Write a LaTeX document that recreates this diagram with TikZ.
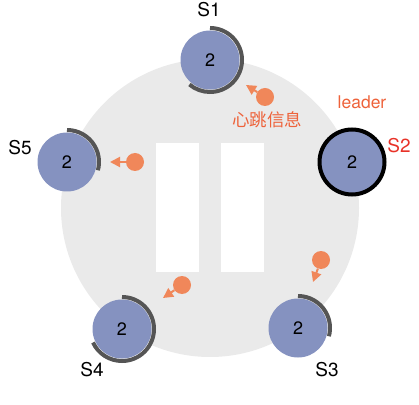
\documentclass[tikz,border=0pt]{standalone}
\usepackage{fontspec}
\setmainfont{TeX Gyre Heros}
\newfontfamily\cjk{Noto Sans CJK SC}
\usetikzlibrary{arrows.meta}
\definecolor{srvblue}{RGB}{133,146,192}
\definecolor{ringgray}{RGB}{85,85,85}
\definecolor{bggray}{RGB}{234,234,234}
\definecolor{msgorange}{RGB}{240,135,90}
\definecolor{leadred}{RGB}{238,98,58}
\definecolor{srvred}{RGB}{232,50,40}
\tikzset{
  srv/.style={circle, fill=srvblue, minimum size=59pt, inner sep=0pt,
    font=\fontsize{18}{18}\selectfont},
  ring/.style={ringgray, line width=4pt},
  dot/.style={circle, fill=msgorange, minimum size=18pt, inner sep=0pt},
  msg/.style={msgorange, line width=2pt, -{Triangle[length=10pt,width=10pt]}},
  srvlabel/.style={font=\fontsize{19}{19}\selectfont}
}
\begin{document}
\begin{tikzpicture}[x=1pt,y=1pt]
  \useasboundingbox (0,0) rectangle (419,404);
  % background
  \fill[bggray] (210,196) circle (149);
  \fill[white] (156,132) rectangle (199,261);
  \fill[white] (221,132) rectangle (264,261);
  % followers
  \foreach \n/\x/\y/\e in {1/210/344/-130, 3/298/76/-15, 4/122/75/-155, 5/67/242/-15}{
      \node[srv] (s\n) at (\x,\y) {2};
      \draw[ring] (s\n.center) ++(90:32) arc[start angle=90, end angle=\e, radius=32];
  }
  % leader
  \node[srv, draw=black, line width=4pt, minimum size=65pt] (s2) at (352,242) {2};
  % labels
  \node[srvlabel] (l1) at (209,394) {S1};
  \node[srvlabel, srvred] (l2) at (399,258) {S2};
  \node[srvlabel] (l3) at (327,34) {S3};
  \node[srvlabel] (l4) at (92,34) {S4};
  \node[srvlabel] (l5) at (20,256) {S5};
  \node[leadred, font=\fontsize{17.5}{17.5}\selectfont] (lead) at (362,302) {leader};
  \node[leadred, font=\cjk\fontsize{17.5}{17.5}\selectfont] (beat) at (267,284) {心跳信息};
  % heartbeats
  \foreach \n/\x/\y/\u/\v in {1/265/307/246/319, 3/321/144/313/122, 4/182/119/163/106, 5/135/242/110/242}{
      \node[dot] (d\n) at (\x,\y) {};
      \coordinate (t\n) at (\u,\v);
      \draw[msg] (d\n) -- (t\n);
  }
\end{tikzpicture}
\end{document}
